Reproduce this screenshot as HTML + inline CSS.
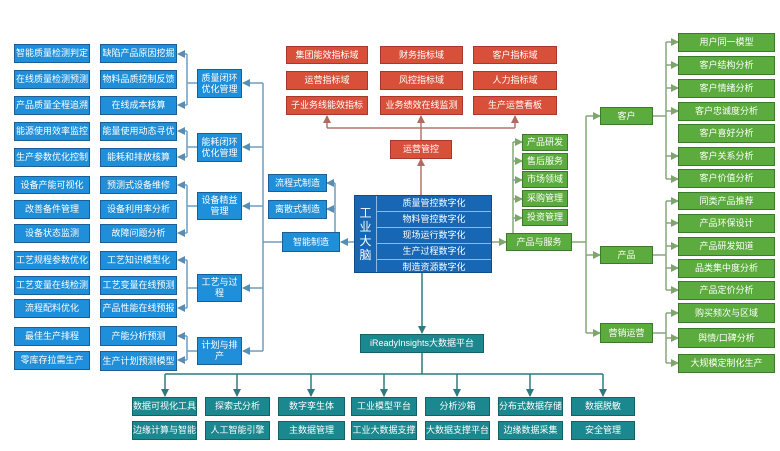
<!DOCTYPE html>
<html><head><meta charset="utf-8"><style>
body{margin:0;width:780px;height:451px;background:#fff;position:relative;overflow:hidden;font-family:"Liberation Sans","Noto Sans CJK SC",sans-serif}
.b{position:absolute;color:#fff;font-size:9px;display:flex;align-items:center;justify-content:center;text-align:center;line-height:11px;box-sizing:border-box;white-space:nowrap}
.u{background:#1f8fd9;border:1px solid #1a5f96}
.r{background:#d9503a;border:1px solid #a8392a}
.g{background:#5cab3e;border:1px solid #3b7a28}
.t{background:#1b878e;border:1px solid #146268}
svg{position:absolute;left:0;top:0}
</style></head><body>
<svg width="780" height="451">
<defs>
<marker id="ab" markerWidth="8" markerHeight="8" refX="7" refY="4" orient="auto" markerUnits="userSpaceOnUse"><path d="M0,0L8,4L0,8z" fill="#5b8db3"/></marker>
<marker id="ar" markerWidth="8" markerHeight="8" refX="7" refY="4" orient="auto" markerUnits="userSpaceOnUse"><path d="M0,0L8,4L0,8z" fill="#b06a60"/></marker>
<marker id="ag" markerWidth="8" markerHeight="8" refX="7" refY="4" orient="auto" markerUnits="userSpaceOnUse"><path d="M0,0L8,4L0,8z" fill="#7fa56e"/></marker>
<marker id="at" markerWidth="8" markerHeight="8" refX="7" refY="4" orient="auto" markerUnits="userSpaceOnUse"><path d="M0,0L8,4L0,8z" fill="#2e7a7e"/></marker>
</defs>
<g stroke="#6e9ec0" stroke-width="1.5" fill="none">
<path d="M187,54V105M187,83H197"/><path d="M187,131V157M187,147H197"/><path d="M187,185V233M187,206H197"/><path d="M187,260V308M187,288H197"/><path d="M187,336V360M187,351H197"/>
<line x1="187" y1="54" x2="178" y2="54" marker-end="url(#ab)"/><line x1="187" y1="105" x2="178" y2="105" marker-end="url(#ab)"/>
<line x1="187" y1="131" x2="178" y2="131" marker-end="url(#ab)"/><line x1="187" y1="157" x2="178" y2="157" marker-end="url(#ab)"/>
<line x1="187" y1="185" x2="178" y2="185" marker-end="url(#ab)"/><line x1="187" y1="233" x2="178" y2="233" marker-end="url(#ab)"/>
<line x1="187" y1="260" x2="178" y2="260" marker-end="url(#ab)"/><line x1="187" y1="308" x2="178" y2="308" marker-end="url(#ab)"/>
<line x1="187" y1="336" x2="178" y2="336" marker-end="url(#ab)"/><line x1="187" y1="360" x2="178" y2="360" marker-end="url(#ab)"/>
<path d="M263,83V351M263,242H282"/>
<line x1="263" y1="83" x2="243" y2="83" marker-end="url(#ab)"/><line x1="263" y1="147" x2="243" y2="147" marker-end="url(#ab)"/><line x1="263" y1="206" x2="243" y2="206" marker-end="url(#ab)"/><line x1="263" y1="288" x2="243" y2="288" marker-end="url(#ab)"/><line x1="263" y1="351" x2="243" y2="351" marker-end="url(#ab)"/>
<path d="M335,183V232"/><line x1="335" y1="183" x2="327" y2="183" marker-end="url(#ab)"/><line x1="335" y1="209" x2="327" y2="209" marker-end="url(#ab)"/>
<line x1="354" y1="242" x2="341" y2="242" marker-end="url(#ab)"/>
</g>
<g stroke="#b5746a" stroke-width="1.5" fill="none">
<path d="M327,128H515"/><line x1="327" y1="128" x2="327" y2="116" marker-end="url(#ar)"/><line x1="421" y1="140" x2="421" y2="116" marker-end="url(#ar)"/><line x1="515" y1="128" x2="515" y2="116" marker-end="url(#ar)"/>
<line x1="421" y1="195" x2="421" y2="159" marker-end="url(#ar)"/>
</g>
<g stroke="#86a879" stroke-width="1.5" fill="none">
<path d="M513,142V233"/>
<line x1="513" y1="142" x2="522" y2="142" marker-end="url(#ag)"/><line x1="513" y1="161" x2="522" y2="161" marker-end="url(#ag)"/><line x1="513" y1="180" x2="522" y2="180" marker-end="url(#ag)"/><line x1="513" y1="199" x2="522" y2="199" marker-end="url(#ag)"/><line x1="513" y1="218" x2="522" y2="218" marker-end="url(#ag)"/>
<line x1="492" y1="242" x2="506" y2="242" marker-end="url(#ag)"/>
<path d="M572,242H586M586,116V333"/>
<line x1="586" y1="116" x2="600" y2="116" marker-end="url(#ag)"/><line x1="586" y1="255" x2="600" y2="255" marker-end="url(#ag)"/><line x1="586" y1="333" x2="600" y2="333" marker-end="url(#ag)"/>
<path d="M653,116H666M666,42V179"/><path d="M653,255H666M666,201V290"/><path d="M653,333H666M666,313V363"/>
<line x1="666" y1="42" x2="678" y2="42" marker-end="url(#ag)"/><line x1="666" y1="65" x2="678" y2="65" marker-end="url(#ag)"/><line x1="666" y1="88" x2="678" y2="88" marker-end="url(#ag)"/><line x1="666" y1="111" x2="678" y2="111" marker-end="url(#ag)"/><line x1="666" y1="156" x2="678" y2="156" marker-end="url(#ag)"/><line x1="666" y1="179" x2="678" y2="179" marker-end="url(#ag)"/>
<line x1="666" y1="201" x2="678" y2="201" marker-end="url(#ag)"/><line x1="666" y1="223" x2="678" y2="223" marker-end="url(#ag)"/><line x1="666" y1="246" x2="678" y2="246" marker-end="url(#ag)"/><line x1="666" y1="268" x2="678" y2="268" marker-end="url(#ag)"/><line x1="666" y1="290" x2="678" y2="290" marker-end="url(#ag)"/>
<line x1="666" y1="313" x2="678" y2="313" marker-end="url(#ag)"/><line x1="666" y1="338" x2="678" y2="338" marker-end="url(#ag)"/><line x1="666" y1="363" x2="678" y2="363" marker-end="url(#ag)"/>
</g>
<g stroke="#2e7a7e" stroke-width="1.5" fill="none">
<line x1="422" y1="273" x2="422" y2="333" marker-end="url(#at)"/>
<path d="M422,353V374M165,374H603"/>
<line x1="165" y1="374" x2="165" y2="396" marker-end="url(#at)"/><line x1="237" y1="374" x2="237" y2="396" marker-end="url(#at)"/><line x1="311" y1="374" x2="311" y2="396" marker-end="url(#at)"/><line x1="384" y1="374" x2="384" y2="396" marker-end="url(#at)"/><line x1="457" y1="374" x2="457" y2="396" marker-end="url(#at)"/><line x1="530" y1="374" x2="530" y2="396" marker-end="url(#at)"/><line x1="603" y1="374" x2="603" y2="396" marker-end="url(#at)"/>
</g>
</svg>

<div class="b u" style="left:14px;top:44px;width:76px;height:19px">智能质量检测判定</div>
<div class="b u" style="left:14px;top:70px;width:76px;height:19px">在线质量检测预测</div>
<div class="b u" style="left:14px;top:96px;width:76px;height:19px">产品质量全程追溯</div>
<div class="b u" style="left:14px;top:122px;width:76px;height:19px">能源使用效率监控</div>
<div class="b u" style="left:14px;top:148px;width:76px;height:19px">生产参数优化控制</div>
<div class="b u" style="left:14px;top:176px;width:76px;height:18px">设备产能可视化</div>
<div class="b u" style="left:14px;top:200px;width:76px;height:19px">改善备件管理</div>
<div class="b u" style="left:14px;top:224px;width:76px;height:19px">设备状态监测</div>
<div class="b u" style="left:14px;top:251px;width:76px;height:19px">工艺规程参数优化</div>
<div class="b u" style="left:14px;top:276px;width:76px;height:19px">工艺变量在线检测</div>
<div class="b u" style="left:14px;top:299px;width:76px;height:19px">流程配料优化</div>
<div class="b u" style="left:14px;top:327px;width:76px;height:19px">最佳生产排程</div>
<div class="b u" style="left:14px;top:351px;width:76px;height:19px">零库存拉需生产</div>

<div class="b u" style="left:100px;top:44px;width:77px;height:19px">缺陷产品原因挖掘</div>
<div class="b u" style="left:100px;top:70px;width:77px;height:19px">物料品质控制反馈</div>
<div class="b u" style="left:100px;top:96px;width:77px;height:19px">在线成本核算</div>
<div class="b u" style="left:100px;top:122px;width:77px;height:19px">能量使用动态寻优</div>
<div class="b u" style="left:100px;top:148px;width:77px;height:19px">能耗和排放核算</div>
<div class="b u" style="left:100px;top:176px;width:77px;height:18px">预测式设备维修</div>
<div class="b u" style="left:100px;top:200px;width:77px;height:19px">设备利用率分析</div>
<div class="b u" style="left:100px;top:224px;width:77px;height:19px">故障问题分析</div>
<div class="b u" style="left:100px;top:251px;width:77px;height:19px">工艺知识模型化</div>
<div class="b u" style="left:100px;top:276px;width:77px;height:19px">工艺变量在线预测</div>
<div class="b u" style="left:100px;top:299px;width:77px;height:19px">产品性能在线预报</div>
<div class="b u" style="left:100px;top:326px;width:77px;height:20px">产能分析预测</div>
<div class="b u" style="left:100px;top:351px;width:77px;height:20px">生产计划预测模型</div>

<div class="b u" style="left:197px;top:69px;width:45px;height:29px;white-space:normal">质量闭环优化管理</div>
<div class="b u" style="left:197px;top:133px;width:45px;height:29px;white-space:normal">能耗闭环优化管理</div>
<div class="b u" style="left:197px;top:192px;width:45px;height:28px;white-space:normal">设备精益管理</div>
<div class="b u" style="left:197px;top:274px;width:45px;height:28px;white-space:normal">工艺与过程</div>
<div class="b u" style="left:197px;top:337px;width:45px;height:28px;white-space:normal">计划与排产</div>

<div class="b u" style="left:268px;top:174px;width:59px;height:18px">流程式制造</div>
<div class="b u" style="left:268px;top:200px;width:59px;height:19px">离散式制造</div>
<div class="b u" style="left:282px;top:232px;width:58px;height:20px">智能制造</div>

<div class="b r" style="left:286px;top:46px;width:82px;height:18px">集团能效指标域</div>
<div class="b r" style="left:380px;top:46px;width:83px;height:18px">财务指标域</div>
<div class="b r" style="left:473px;top:46px;width:84px;height:18px">客户指标域</div>
<div class="b r" style="left:286px;top:71px;width:82px;height:19px">运营指标域</div>
<div class="b r" style="left:380px;top:71px;width:83px;height:19px">风控指标域</div>
<div class="b r" style="left:473px;top:71px;width:84px;height:19px">人力指标域</div>
<div class="b r" style="left:286px;top:96px;width:82px;height:19px">子业务线能效指标</div>
<div class="b r" style="left:380px;top:96px;width:83px;height:19px">业务绩效在线监测</div>
<div class="b r" style="left:473px;top:96px;width:84px;height:19px">生产运营看板</div>
<div class="b r" style="left:390px;top:140px;width:62px;height:19px">运营管控</div>

<div style="position:absolute;left:354px;top:195px;width:138px;height:78px;background:#1767b5;border:1px solid #0f4d8a;box-sizing:border-box">
<div style="position:absolute;left:0;top:0;width:21px;height:76px;color:#fff;font-size:12px;line-height:14px;display:flex;align-items:center;justify-content:center;text-align:center;width:21px;white-space:normal;padding:0 4px;box-sizing:border-box">工业大脑</div>
<div style="position:absolute;left:21px;top:0;right:0;bottom:0;border-left:1px solid #8fb8e0;color:#fff;font-size:9px">
<div style="height:15px;line-height:15px;text-align:center;border-bottom:1px solid #8fb8e0">质量管控数字化</div>
<div style="height:15px;line-height:15px;text-align:center;border-bottom:1px solid #8fb8e0">物料管控数字化</div>
<div style="height:15px;line-height:15px;text-align:center;border-bottom:1px solid #8fb8e0">现场运行数字化</div>
<div style="height:15px;line-height:15px;text-align:center;border-bottom:1px solid #8fb8e0">生产过程数字化</div>
<div style="height:14px;line-height:14px;text-align:center">制造资源数字化</div>
</div></div>

<div class="b t" style="left:360px;top:334px;width:124px;height:19px">iReadyInsights大数据平台</div>

<div class="b g" style="left:522px;top:134px;width:46px;height:17px">产品研发</div>
<div class="b g" style="left:522px;top:153px;width:46px;height:17px">售后服务</div>
<div class="b g" style="left:522px;top:171px;width:46px;height:17px">市场领域</div>
<div class="b g" style="left:522px;top:190px;width:46px;height:17px">采购管理</div>
<div class="b g" style="left:522px;top:209px;width:46px;height:17px">投资管理</div>
<div class="b g" style="left:506px;top:233px;width:66px;height:18px">产品与服务</div>
<div class="b g" style="left:600px;top:107px;width:53px;height:18px">客户</div>
<div class="b g" style="left:600px;top:246px;width:53px;height:18px">产品</div>
<div class="b g" style="left:600px;top:323px;width:53px;height:20px">营销运营</div>

<div class="b g" style="left:678px;top:33px;width:97px;height:19px">用户同一模型</div>
<div class="b g" style="left:678px;top:56px;width:97px;height:19px">客户结构分析</div>
<div class="b g" style="left:678px;top:79px;width:97px;height:19px">客户情绪分析</div>
<div class="b g" style="left:678px;top:102px;width:97px;height:19px">客户忠诚度分析</div>
<div class="b g" style="left:678px;top:124px;width:97px;height:19px">客户喜好分析</div>
<div class="b g" style="left:678px;top:147px;width:97px;height:19px">客户关系分析</div>
<div class="b g" style="left:678px;top:169px;width:97px;height:19px">客户价值分析</div>
<div class="b g" style="left:678px;top:192px;width:97px;height:18px">同类产品推荐</div>
<div class="b g" style="left:678px;top:214px;width:97px;height:19px">产品环保设计</div>
<div class="b g" style="left:678px;top:237px;width:97px;height:19px">产品研发知道</div>
<div class="b g" style="left:678px;top:259px;width:97px;height:19px">品类集中度分析</div>
<div class="b g" style="left:678px;top:281px;width:97px;height:19px">产品定价分析</div>
<div class="b g" style="left:678px;top:303px;width:97px;height:20px">购买频次与区域</div>
<div class="b g" style="left:678px;top:328px;width:97px;height:20px">舆情/口碑分析</div>
<div class="b g" style="left:678px;top:354px;width:97px;height:19px">大规模定制化生产</div>

<div class="b t" style="left:132px;top:397px;width:65px;height:19px">数据可视化工具</div>
<div class="b t" style="left:205px;top:397px;width:65px;height:19px">探索式分析</div>
<div class="b t" style="left:278px;top:397px;width:67px;height:19px">数字孪生体</div>
<div class="b t" style="left:351px;top:397px;width:66px;height:19px">工业模型平台</div>
<div class="b t" style="left:425px;top:397px;width:65px;height:19px">分析沙箱</div>
<div class="b t" style="left:498px;top:397px;width:65px;height:19px">分布式数据存储</div>
<div class="b t" style="left:571px;top:397px;width:64px;height:19px">数据脱敏</div>
<div class="b t" style="left:132px;top:421px;width:65px;height:19px">边缘计算与智能</div>
<div class="b t" style="left:205px;top:421px;width:65px;height:19px">人工智能引擎</div>
<div class="b t" style="left:278px;top:421px;width:67px;height:19px">主数据管理</div>
<div class="b t" style="left:351px;top:421px;width:66px;height:19px">工业大数据支撑</div>
<div class="b t" style="left:425px;top:421px;width:65px;height:19px">大数据支撑平台</div>
<div class="b t" style="left:498px;top:421px;width:65px;height:19px">边缘数据采集</div>
<div class="b t" style="left:571px;top:421px;width:64px;height:19px">安全管理</div>
</body></html>
